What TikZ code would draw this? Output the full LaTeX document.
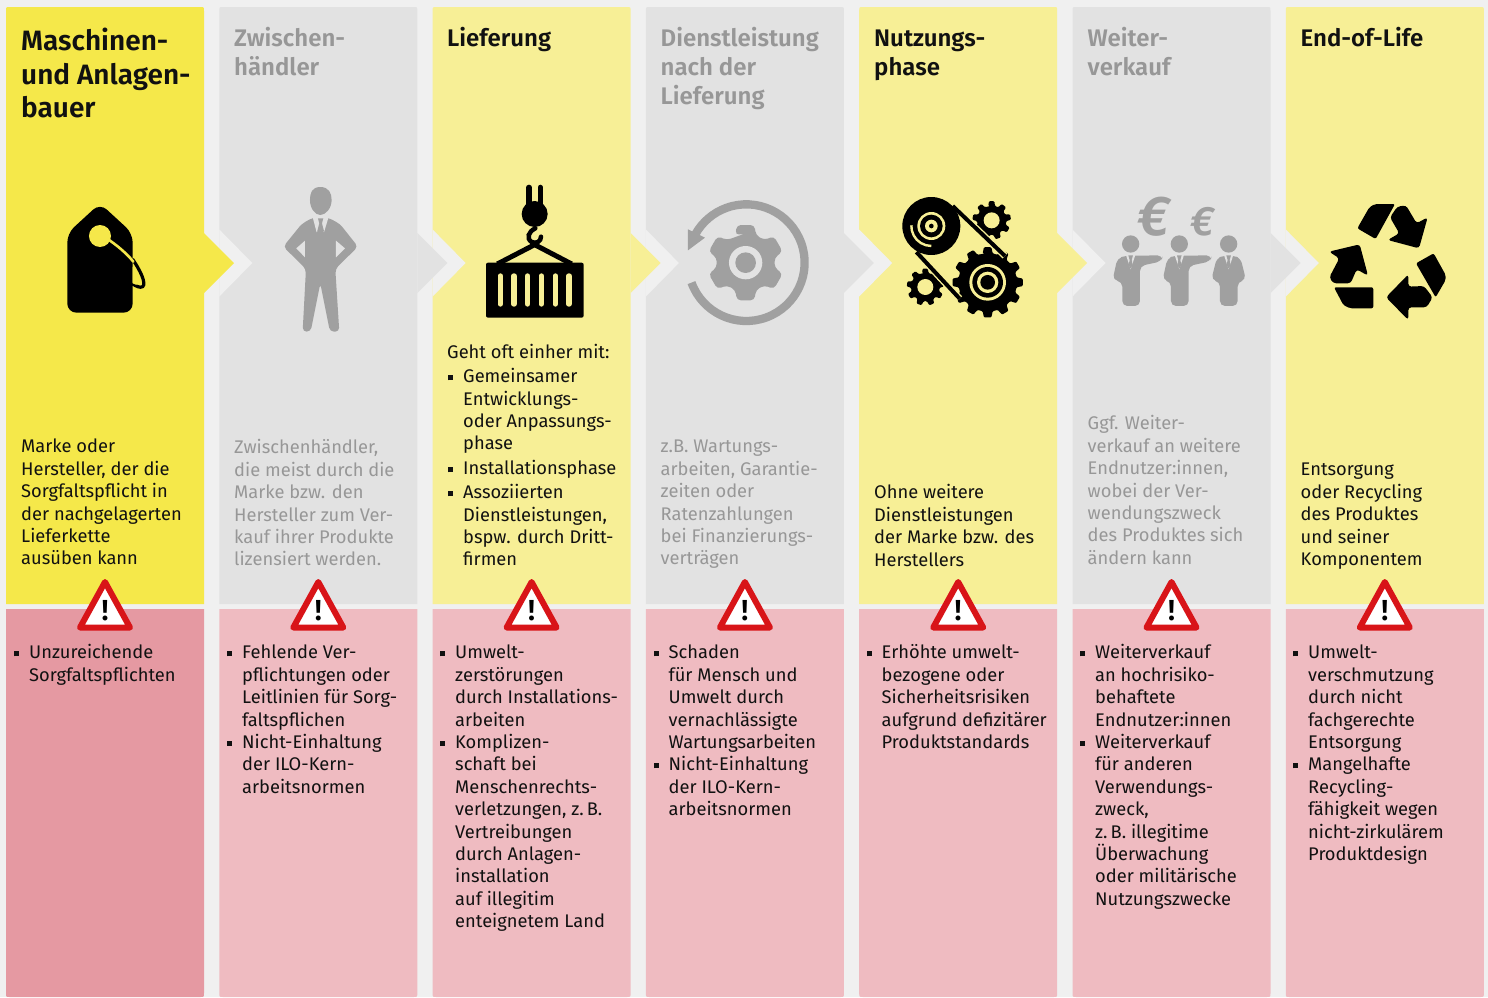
\documentclass[tikz,border=0pt]{standalone}
\usepackage{fontspec}
\setmainfont[BoldFont={Fira Sans SemiBold}]{Fira Sans}
\definecolor{bgc}{HTML}{F0F0F0}
\definecolor{yel}{HTML}{F5E84A}
\definecolor{lyel}{HTML}{F7EF96}
\definecolor{gry}{HTML}{E2E2E2}
\definecolor{dred}{HTML}{E599A2}
\definecolor{lred}{HTML}{EFBBC1}
\definecolor{icog}{HTML}{A0A0A0}
\definecolor{txg}{HTML}{979797}
\definecolor{txb}{HTML}{111111}
\definecolor{wred}{HTML}{D81418}
\newcommand\bul{\leavevmode\llap{\rule[2.5pt]{5pt}{5pt}\hspace{10pt}}}
\newcommand\bodyfont{\fontsize{18.3}{22.4}\selectfont}
\newcommand\colup[3]{%x1 colour
 \fill[#2] (#1,604) -- (#1,11) .. controls (#1,7) .. ({#1+4},7) -- ({#1+194},7) .. controls ({#1+198},7) .. ({#1+198},11) -- ({#1+198},604) -- cycle;
 \fill[#3] (#1,609) -- ({#1+198},609) -- ({#1+198},993) .. controls ({#1+198},997) .. ({#1+194},997) -- ({#1+4},997) .. controls (#1,997) .. (#1,993) -- cycle;}
\newcommand\notch[1]{\fill[bgc] (#1,229.5) -- ({#1+33},263) -- (#1,296.5) -- cycle;}
\newcommand\tip[2]{\fill[#2] ({#1+198},233) -- ({#1+228},263) -- ({#1+198},293) -- cycle;}
\newcommand\warn[2]{%
 \draw[wred,fill=white,line width=6pt,line join=round] ({#1+99},582) -- ({#1+124},627.5) -- ({#1+74},627.5) -- cycle;
 \node[warnmark] (#2) at ({#1+99},620.5) {!};}
\def\gt{0.16}\def\gr{0.27}\def\gc{1pt}
\newcommand\gearp[7]{%cx cy Ro Ri n rot colour
 \fill[#7,rounded corners=\gc,shift={(#1,#2)}] (#6:#4) foreach \i in {0,...,\numexpr#5-1\relax}{
  -- ({#6+\i*360/#5-\gr*360/#5}:#4) -- ({#6+\i*360/#5-\gt*360/#5}:#3) -- ({#6+\i*360/#5+\gt*360/#5}:#3) -- ({#6+\i*360/#5+\gr*360/#5}:#4)
 } -- cycle;}
\tikzset{
 hd/.style={anchor=north west,inner sep=0pt,align=left,font=\fontsize{24}{28.7}\selectfont\bfseries},
 txt/.style={anchor=north west,inner sep=0pt,align=left,font=\bodyfont},
 grey/.style={text=txg},
 blk/.style={text=txb},
 warnmark/.style={anchor=base,inner sep=0pt,text=black,font=\fontsize{29}{29}\selectfont\bfseries},
 za/.style={shift={(0,170)},x=0.3333pt,y=-0.3333pt},
 zb/.style={shift={(460,170)},x=0.3333pt,y=-0.3333pt},
 zc/.style={shift={(880,170)},x=0.3333pt,y=-0.3333pt},
 zd/.style={shift={(1280,180)},x=0.3333pt,y=-0.3333pt},
}
\begin{document}
\begin{tikzpicture}[x=1pt,y=-1pt]
\useasboundingbox (0,0) rectangle (1488,997);
\fill[bgc] (0,0) rectangle (1488,997);
% panels
\colup{6}{yel}{dred}
\colup{219.3}{gry}{lred}\notch{219.3}
\colup{432.6}{lyel}{lred}\notch{432.6}
\colup{645.9}{gry}{lred}\notch{645.9}
\colup{859.2}{lyel}{lred}\notch{859.2}
\colup{1072.5}{gry}{lred}\notch{1072.5}
\colup{1285.8}{lyel}{lred}\notch{1285.8}
\tip{6}{yel}\tip{219.3}{gry}\tip{432.6}{lyel}\tip{645.9}{gry}\tip{859.2}{lyel}\tip{1072.5}{gry}
% warning signs
\warn{6}{w1}\warn{219.3}{w2}\warn{432.6}{w3}\warn{645.9}{w4}\warn{859.2}{w5}\warn{1072.5}{w6}\warn{1285.8}{w7}
% headings
\node[hd,blk,font=\fontsize{28}{33.6}\selectfont\bfseries] (h1) at (21,27) {\strut Maschinen-\\und Anlagen-\\bauer};
\node[hd,grey] (h2) at (234,26.5) {\strut Zwischen-\\händler};
\node[hd,blk] (h3) at (447,26.5) {\strut Lieferung};
\node[hd,grey] (h4) at (660.5,26.5) {\strut Dienstleistung\\nach der\\Lieferung};
\node[hd,blk] (h5) at (874,26.5) {\strut Nutzungs-\\phase};
\node[hd,grey] (h6) at (1087.5,26.5) {\strut Weiter-\\verkauf};
\node[hd,blk] (h7) at (1300.5,26.5) {\strut End-of-Life};
% upper texts
\node[txt,blk] (u1) at (21,437) {\strut Marke oder\\Hersteller, der die\\Sorgfaltspflicht in\\der nachgelagerten\\Lieferkette\\ausüben kann};
\node[txt,grey] (u2) at (234,438) {\strut Zwischenhändler,\\die meist durch die\\Marke bzw. den\\Hersteller zum Ver-\\kauf ihrer Produkte\\lizensiert werden.};
\node[txt,blk] (u3) at (447,343) {\strut Geht oft einher mit:\\[1.5pt]\hspace*{16pt}\bul Gemeinsamer\\\hspace*{16pt}Entwicklungs-\\\hspace*{16pt}oder Anpassungs-\\\hspace*{16pt}phase\\[2.5pt]\hspace*{16pt}\bul Installationsphase\\[1.5pt]\hspace*{16pt}\bul Assoziierten\\\hspace*{16pt}Dienstleistungen,\\\hspace*{16pt}bspw. durch Dritt-\\\hspace*{16pt}firmen};
\node[txt,grey] (u4) at (660.5,437) {\strut z.B. Wartungs-\\arbeiten, Garantie-\\zeiten oder\\Ratenzahlungen\\bei Finanzierungs-\\verträgen};
\node[txt,blk] (u5) at (874,483) {\strut Ohne weitere\\Dienstleistungen\\der Marke bzw. des\\Herstellers};
\node[txt,grey] (u6) at (1087.5,414) {\strut Ggf. Weiter-\\verkauf an weitere\\Endnutzer:innen,\\wobei der Ver-\\wendungszweck\\des Produktes sich\\ändern kann};
\node[txt,blk] (u7) at (1300.5,460) {\strut Entsorgung\\oder Recycling\\des Produktes\\und seiner\\Komponentem};
% lower texts
\node[txt,blk] (l1) at (29,643) {\strut\bul Unzureichende\\Sorgfaltspflichten};
\node[txt,blk] (l2) at (242,643) {\strut\bul Fehlende Ver-\\pflichtungen oder\\Leitlinien für Sorg-\\faltspflichen\\\bul Nicht-Einhaltung\\der ILO-Kern-\\arbeitsnormen};
\node[txt,blk] (l3) at (455,643) {\strut\bul Umwelt-\\zerstörungen\\durch Installations-\\arbeiten\\\bul Komplizen-\\schaft bei\\Menschenrechts-\\verletzungen, z.\,B.\\Vertreibungen\\durch Anlagen-\\installation\\auf illegitim\\enteignetem Land};
\node[txt,blk] (l4) at (668.5,643) {\strut\bul Schaden\\für Mensch und\\Umwelt durch\\vernachlässigte\\Wartungsarbeiten\\\bul Nicht-Einhaltung\\der ILO-Kern-\\arbeitsnormen};
\node[txt,blk] (l5) at (881.5,643) {\strut\bul Erhöhte umwelt-\\bezogene oder\\Sicherheitsrisiken\\aufgrund defizitärer\\Produktstandards};
\node[txt,blk] (l6) at (1095,643) {\strut\bul Weiterverkauf\\an hochrisiko-\\behaftete\\Endnutzer:innen\\\bul Weiterverkauf\\für anderen\\Verwendungs-\\zweck,\\z.\,B. illegitime\\Überwachung\\oder militärische\\Nutzungszwecke};
\node[txt,blk] (l7) at (1308,643) {\strut\bul Umwelt-\\verschmutzung\\durch nicht\\fachgerechte\\Entsorgung\\\bul Mangelhafte\\Recycling-\\fähigkeit wegen\\nicht-zirkulärem\\Produktdesign};
% icon 1: tag
\begin{scope}[za]
 \fill[black,rounded corners=9pt] (300,100) -- (398,190) -- (398,428) -- (202,428) -- (202,190) -- cycle;
 \fill[yel] (300,198) circle (33);
 \draw[black,line width=3.2pt,line cap=round] (398,268) .. controls (420,300) and (440,340) .. (428,350) .. controls (420,355) and (408,348) .. (398,342);
 \draw[yel,line width=2.6pt,line cap=round] (320,205) .. controls (350,225) and (380,250) .. (400,275);
 \fill[yel] (398,290) .. controls (403,310) and (408,330) .. (410,345) -- (398,340) -- cycle;
\end{scope}
% icon 2: man
\begin{scope}[za]
 \fill[icog] (961,51) .. controls (935,51) and (930,70) .. (930,90) .. controls (930,115) and (945,135) .. (961,135) .. controls (977,135) and (995,115) .. (995,90) .. controls (995,70) and (987,51) .. (961,51) -- cycle;
 \fill[icog,rounded corners=4pt] (938,143) -- (905,162) -- (850,230) -- (918,297) -- (908,485) -- (932,485) -- (961,340) -- (990,485) -- (1018,485) -- (1006,297) -- (1074,230) -- (1020,162) -- (985,143) -- cycle;
 \fill[gry] (915,212) -- (889,235) -- (915,262) -- cycle;
 \fill[gry] (1008,212) -- (1035,235) -- (1008,262) -- cycle;
 \fill[gry] (938,141) -- (986,141) -- (972,187) -- (962,170) -- (950,187) -- cycle;
 \fill[icog] (954,145) -- (970,145) -- (966,160) -- (972,183) -- (962,192) -- (952,183) -- (958,160) -- cycle;
\end{scope}
% icon 3: container
\begin{scope}[zb]
 \draw[black,line width=5.3pt,line cap=round] (207,52) -- (207,110) (241,52) -- (241,110);
 \fill[black] (224,132) circle (39);
 \draw[black,line width=4.5pt,line cap=round] (226,175) .. controls (205,185) and (198,205) .. (215,216) .. controls (228,222) and (243,215) .. (243,200);
 \draw[black,line width=5pt,line join=round] (112,282) -- (224,224) -- (335,282);
 \fill[black,rounded corners=2pt] (78,278) rectangle (371,443);
 \foreach \sx in {121,162,203,244,286,327} \draw[lyel,line width=5.4pt,line cap=round] (\sx,318) -- (\sx,402);
\end{scope}
% icon 4: service
\begin{scope}[zb]
 \draw[icog,line width=8.3pt] (859,278) ++(-200:175) arc (-200:-511:175);
 \fill[icog] (684,178) -- (735,203) -- (684,241) -- cycle;
 \def\gt{0.22}\def\gr{0.34}\def\gc{4pt}
 \gearp{857}{278}{116}{88}{6}{-90}{icog}
 \fill[gry] (857,278) circle (50);
 \fill[icog] (857,278) circle (31);
\end{scope}
% icon 5: gears
\begin{scope}[zc]
 \def\gt{0.2}\def\gr{0.33}\def\gc{1pt}
 \gearp{323}{337}{106}{88}{12}{-90}{black}
 \fill[lyel] (323,337) circle (55);
 \fill[black] (323,337) circle (46);
 \fill[lyel] (323,337) circle (32);
 \fill[black] (323,337) circle (22);
 \gearp{335}{151}{58}{44}{9}{-90}{black}
 \fill[lyel] (335,151) circle (24);
 \gearp{136}{351}{56}{43}{9}{-90}{black}
 \fill[lyel] (136,351) circle (24);
 \draw[lyel,line width=6.8pt] (218,108) -- (375,258) (109,246) -- (239,386);
 \draw[black,line width=4pt] (218,108) -- (375,258) (109,246) -- (239,386);
 \fill[black] (154,168) circle (87);
 \fill[lyel] (154,168) circle (42);
 \fill[black] (154,168) circle (34);
 \fill[lyel] (154,168) circle (19);
 \fill[black] (154,168) circle (7);
 \draw[lyel,line width=2.4pt] (154,168) ++(-178:60) arc (-178:-270:60);
\end{scope}
% icon 6: buyers
\begin{scope}[zc]
 \foreach \hx in {752,898,1046} \fill[icog] (\hx,222) circle (26);
 \fill[icog,rounded corners=5pt] (738,257) -- (712,265) -- (698,330) -- (727,335) -- (727,408) -- (780,408) -- (780,288) -- (845,274) -- (848,256) -- (768,257) -- cycle;
 \fill[icog,rounded corners=5pt] (884,257) -- (862,265) -- (848,330) -- (873,335) -- (873,408) -- (926,408) -- (926,288) -- (992,274) -- (995,256) -- (914,257) -- cycle;
 \fill[icog,rounded corners=5pt] (1032,257) -- (1010,265) -- (994,330) -- (1020,335) -- (1020,408) -- (1073,408) -- (1073,335) -- (1098,330) -- (1082,265) -- (1060,257) -- cycle;
 \foreach \hx in {752,898,1046}{
  \fill[gry] ({\hx-14},255) -- ({\hx+14},255) -- (\hx,298) -- cycle;
  \fill[icog] ({\hx-7},256) -- ({\hx+7},256) -- ({\hx+3},270) -- ({\hx+6},285) -- (\hx,296) -- ({\hx-6},285) -- ({\hx-3},270) -- cycle;}
 \node[text=icog,inner sep=0pt,font=\fontsize{56}{56}\selectfont\bfseries\itshape] (e1) at (820,140) {€};
 \node[text=icog,inner sep=0pt,font=\fontsize{41}{41}\selectfont\bfseries\itshape] (e2) at (968,155) {€};
\end{scope}
% icon 7: recycling
\begin{scope}[zd]
 \fill[black,rounded corners=2pt] (232,145) -- (268,82) -- (285,72) -- (345,72) -- (287,177) -- cycle;
 \fill[black,rounded corners=3pt] (330,112) -- (352,80) -- (378,76) -- (410,130) -- (443,112) -- (417,205) -- (323,180) -- (358,160) -- cycle;
 \fill[black,rounded corners=2pt] (408,250) -- (461,220) -- (497,285) -- (497,300) -- (467,352) -- cycle;
 \fill[black,rounded corners=3pt] (385,283) -- (385,320) -- (432,318) -- (458,352) -- (440,382) -- (385,382) -- (385,420) -- (318,352) -- cycle;
 \fill[black,rounded corners=2pt] (162,322) -- (280,322) -- (280,385) -- (210,385) -- (190,375) -- cycle;
 \fill[black,rounded corners=3pt] (147,215) -- (239,193) -- (264,287) -- (230,268) -- (212,310) -- (160,310) -- (148,292) -- (178,235) -- cycle;
\end{scope}
\end{tikzpicture}
\end{document}
